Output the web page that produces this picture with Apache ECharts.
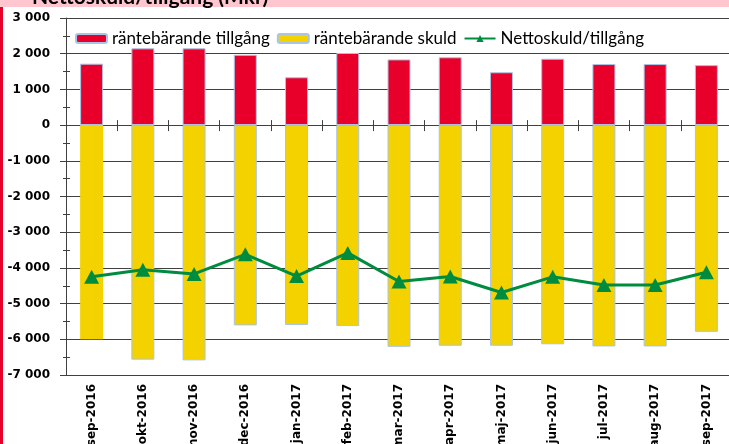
<!DOCTYPE html>
<html><head><meta charset="utf-8">
<script src="https://cdn.jsdelivr.net/npm/echarts@6/dist/echarts.min.js"></script>
<style>html,body{margin:0;padding:0;background:#fff}#c{width:729px;height:444px}</style>
</head><body><div id="c"></div>
<script>
const categories = ['sep-2016','okt-2016','nov-2016','dec-2016','jan-2017','feb-2017','mar-2017','apr-2017','maj-2017','jun-2017','jul-2017','aug-2017','sep-2017'];
const tillgang = [1720,2150,2150,1970,1340,2020,1840,1900,1480,1860,1710,1710,1680];
const skuld = [-6000,-6570,-6590,-5610,-5600,-5630,-6210,-6180,-6180,-6140,-6200,-6200,-5790];
const netto = [-4250,-4050,-4170,-3620,-4230,-3580,-4380,-4240,-4690,-4250,-4480,-4480,-4120];
const yMin = -7000, yMax = 3000, yInterval = 1000;
const seriesNames = ['räntebärande tillgång','räntebärande skuld','Nettoskuld/tillgång'];
const titleText = 'Nettoskuld/tillgång (Mkr)';

const fmt = v => { const s = Math.abs(v).toString().replace(/\B(?=(\d{3})+(?!\d))/g,' '); return (v<0?'-':'')+s; };
const axisColor = '#404040';
const border = '#a9c4e6';
const chart = echarts.init(document.getElementById('c'), null, {renderer:'canvas'});
const option = {
  animation:false,
  textStyle:{fontFamily:'DejaVu Sans'},
  grid:{left:66, top:18, width:666, height:357, outerBoundsMode:'none', containLabel:false},
  graphic:[
    {type:'rect', x:0, y:0, shape:{width:729,height:7}, style:{fill:'#ffc6d0'}, z:-10, silent:true},
    {type:'rect', x:0, y:7, shape:{width:3,height:437}, style:{fill:'#e8002a'}, z:-10, silent:true},
    {type:'text', x:32, y:8, style:{text:titleText, font:'bold 21px Lato', fill:'#000', verticalAlign:'bottom'}, z:100, silent:true}
  ],
  legend:{left:75, top:30, padding:0, itemWidth:31, itemHeight:9, itemGap:7,
    textStyle:{fontFamily:'Lato', fontSize:17, color:'#000'}, data:seriesNames},
  xAxis:[
    {type:'category', data:categories, position:'bottom',
     axisLine:{onZero:false, lineStyle:{color:axisColor}}, axisTick:{show:false},
     axisLabel:{rotate:90, interval:0, fontWeight:'bold', fontSize:12, color:'#000', margin:9, fontFamily:'DejaVu Sans'}},
    {type:'category', data:categories, position:'bottom',
     axisLine:{onZero:true, show:false}, axisTick:{show:true, interval:0, length:6, lineStyle:{color:axisColor}}, axisLabel:{show:false}},
    {type:'category', data:categories, position:'bottom',
     axisLine:{onZero:true, show:false}, axisTick:{show:true, interval:0, inside:true, length:5, lineStyle:{color:axisColor}}, axisLabel:{show:false}}
  ],
  yAxis:[
    {type:'value', min:yMin, max:yMax, interval:yInterval, position:'left',
     axisLine:{show:true, lineStyle:{color:axisColor}},
     axisTick:{show:true, length:6, lineStyle:{color:axisColor}},
     minorTick:{show:true, splitNumber:2, length:3, lineStyle:{color:axisColor}},
     splitLine:{show:true, lineStyle:{color:axisColor, width:1}},
     axisLabel:{formatter:fmt, fontWeight:'bold', fontSize:12, color:'#000', margin:16, fontFamily:'DejaVu Sans'}},
    {type:'value', min:yMin, max:yMax, interval:yInterval, position:'left',
     axisLine:{show:false}, axisTick:{show:false, inside:true},
     minorTick:{show:true, splitNumber:2, length:4, lineStyle:{color:axisColor}},
     splitLine:{show:false}, axisLabel:{show:false}}
  ],
  series:[
    {name:seriesNames[0], type:'bar', stack:'a', barWidth:23, data:tillgang,
     itemStyle:{color:'#e8002a', borderColor:border, borderWidth:1}},
    {name:seriesNames[1], type:'bar', stack:'a', barWidth:23,
     data:skuld.map((v,i)=> i===0 ? {value:v, itemStyle:{borderWidth:0}} : v),
     itemStyle:{color:'#f3d200', borderColor:border, borderWidth:1}},
    {name:seriesNames[2], type:'line', data:netto, symbol:'triangle', symbolSize:[15,14], z:5,
     lineStyle:{color:'#008c3f', width:3}, itemStyle:{color:'#008c3f'}}
  ]
};
chart.setOption(option);
</script></body></html>
